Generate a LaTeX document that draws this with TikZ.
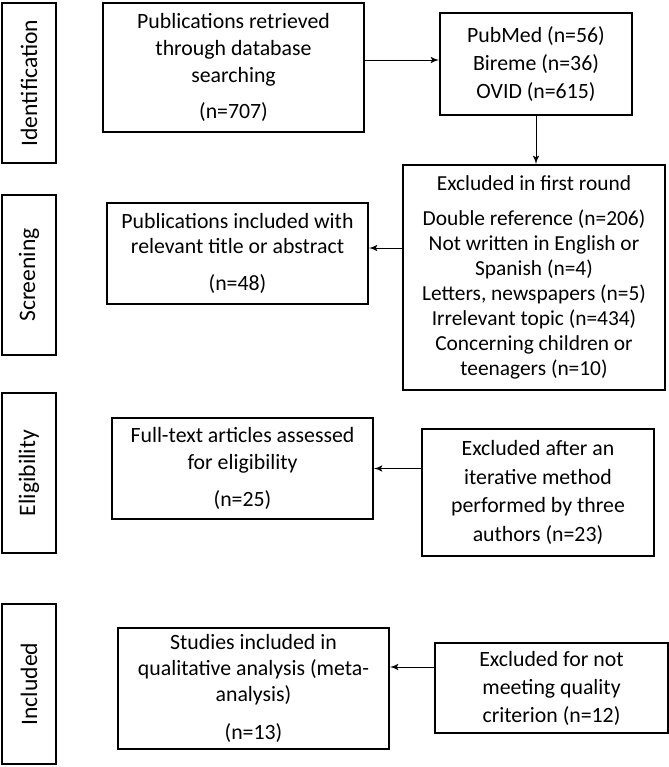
\documentclass[tikz,border=0pt]{standalone}
\usepackage{fontspec}
\setmainfont{Carlito}
\usepackage{tikz}
\usetikzlibrary{arrows}
\tikzset{arrowline/.style = {->,> = latex', line width=0.5pt}}

\begin{document}
\begin{tikzpicture}[x=0.5pt,y=-0.5pt,
    box/.style={draw,line width=0.8pt,align=center,inner sep=0pt,font=\fontsize{10.9}{13.5}\selectfont},
    stage/.style={draw,line width=0.8pt,rotate=90,minimum width=80pt,minimum height=27pt,inner sep=0pt,font=\fontsize{11.8}{14}\selectfont}]
                \useasboundingbox (0,0) rectangle (669,767);

                % stages
                \node[stage] (ident) at (29,83) {Identification};
                \node[stage] (screen) at (29,275) {Screening};
                \node[stage] (elig) at (29,473) {Eligibility};
                \node[stage] (incl) at (29,684) {Included};

                % boxes
                \node[box, minimum width=130.5pt, minimum height=64.5pt] (retrieved) at (233.5,67.5)
                    {Publications retrieved\\ through database\\ searching\\[4.5pt] (n=707)};
                \node[box, minimum width=96pt, minimum height=51pt, font=\fontsize{10.9}{14}\selectfont] (databases) at (536,64)
                    {PubMed (n=56)\\ Bireme (n=36)\\ OVID (n=615)};
                \node[box, minimum width=131pt, minimum height=112.5pt, font=\fontsize{10.7}{12.5}\selectfont] (firstround) at (534,277.5)
                    {Excluded in first round\\[5pt] Double reference (n=206)\\ Not written in English or\\ Spanish (n=4)\\
                     Letters, newspapers (n=5)\\ Irrelevant topic (n=434)\\ Concerning children or\\ teenagers (n=10)};
                \node[box, minimum width=130.5pt, minimum height=50.5pt, font=\fontsize{10.9}{12.5}\selectfont] (screened) at (237.5,253.5)
                    {Publications included with\\ relevant title or abstract\\[6pt] (n=48)};
                \node[box, minimum width=130.5pt, minimum height=50.5pt] (fulltext) at (242.5,468.5)
                    {Full-text articles assessed\\ for eligibility\\[5pt] (n=25)};
                \node[box, minimum width=116pt, minimum height=63.5pt, font=\fontsize{10.9}{14.3}\selectfont] (iterative) at (538,492.5)
                    {Excluded after an\\ iterative method\\ performed by three\\ authors (n=23)};
                \node[box, minimum width=135.5pt, minimum height=60.5pt, font=\fontsize{10.9}{13}\selectfont] (studies) at (253.5,688.5)
                    {Studies included in\\ qualitative analysis (meta-\\ analysis)\\[6pt] (n=13)};
                \node[box, minimum width=116.5pt, minimum height=45pt, font=\fontsize{10.9}{14}\selectfont] (quality) at (551.5,688)
                    {Excluded for not\\ meeting quality\\ criterion (n=12)};

                % arrows
                \coordinate (a1) at ([yshift=2pt]databases.west);
                \coordinate (a3) at ([yshift=2.75pt]screened.east);
                \coordinate (a5) at ([yshift=10.75pt]studies.east);
                \path[arrowline] (a1 -| retrieved.east) edge[] node {} (a1);
                \path[arrowline] (databases.south) edge[] node {} (databases.south |- firstround.north);
                \path[arrowline] (a3 -| firstround.west) edge[] node {} (a3);
                \path[arrowline] (fulltext.east -| iterative.west) edge[] node {} (fulltext.east);
                \path[arrowline] (a5 -| quality.west) edge[] node {} (a5);
            \end{tikzpicture}
\end{document}
